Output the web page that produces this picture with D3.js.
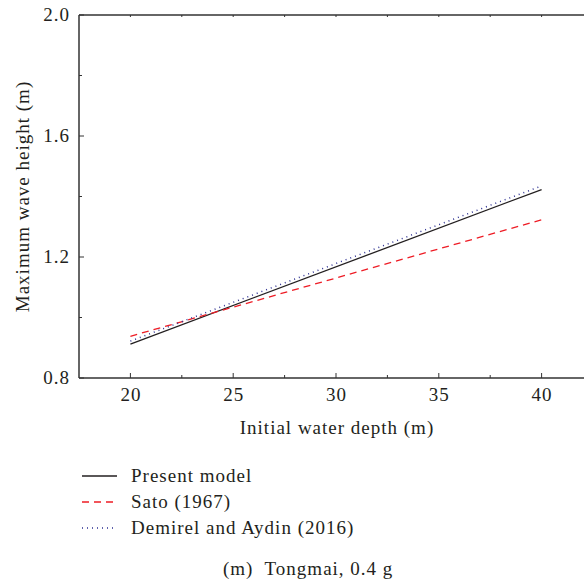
<!DOCTYPE html>
<html><head><meta charset="utf-8">
<script src="https://cdn.jsdelivr.net/npm/d3@7"></script>
<style>body{margin:0;background:#fff}svg{display:block}</style>
</head><body><svg id="c" width="584" height="584" font-family="Liberation Serif, serif"></svg>
<script>
const depth = [20, 40];
const presentModel = [0.912, 1.423];
const sato = [0.938, 1.323];
const demirel = [0.922, 1.435];
const xTicks = [20, 25, 30, 35, 40];
const yTicks = [0.8, 1.2, 1.6, 2.0];
const seriesNames = ["Present model", "Sato (1967)", "Demirel and Aydin (2016)"];
const seriesColors = ["#231f20", "#ee1c25", "#2e3192"];
const seriesDash = [null, "7,5", "1,4"];

const svg = d3.select("#c");
const FS = 19, LS = 1;
const tc = "#231f20";
const m = {l: 79, t: 15, r: 593, b: 378};
const x = d3.scaleLinear().domain([17.5, 42.5]).range([m.l, m.r]);
const y = d3.scaleLinear().domain([0.8, 2.0]).range([m.b, m.t]);
const ax = "#333";

function txt(xp, yp, s, anchor) {
  return svg.append("text").attr("x", xp).attr("y", yp).attr("text-anchor", anchor || "start")
    .attr("font-size", FS).attr("letter-spacing", LS).attr("fill", tc).text(s);
}

svg.append("line").attr("x1", m.l).attr("x2", m.r).attr("y1", m.b).attr("y2", m.b).attr("stroke", ax).attr("stroke-width", 1.5);
svg.append("line").attr("x1", m.l).attr("x2", m.r).attr("y1", m.t).attr("y2", m.t).attr("stroke", ax).attr("stroke-width", 1.5);
svg.append("line").attr("x1", m.l).attr("x2", m.l).attr("y1", m.t).attr("y2", m.b).attr("stroke", ax).attr("stroke-width", 1.5);

const xAll = d3.range(20, 42.6, 2.5);
xAll.forEach(v => {
  const major = xTicks.includes(v);
  svg.append("line").attr("x1", x(v)).attr("x2", x(v)).attr("y1", m.b).attr("y2", m.b - (major ? 5 : 3)).attr("stroke", ax).attr("stroke-width", 1);
  svg.append("line").attr("x1", x(v)).attr("x2", x(v)).attr("y1", m.t).attr("y2", m.t + 2).attr("stroke", ax).attr("stroke-width", 1);
});
xTicks.forEach(v => txt(x(v) + LS / 2, m.b + 23, String(v), "middle"));

const yAll = [0.8, 1.0, 1.2, 1.4, 1.6, 1.8, 2.0];
yAll.forEach(v => {
  const major = yTicks.some(t => Math.abs(t - v) < 1e-9);
  svg.append("line").attr("x1", m.l).attr("x2", m.l + (major ? 5 : 3)).attr("y1", y(v)).attr("y2", y(v)).attr("stroke", ax).attr("stroke-width", 1);
});
yTicks.forEach(v => txt(m.l - 10 + LS, y(v) + 6, v.toFixed(1), "end"));

txt((x(20) + x(40)) / 2 + 1, 434, "Initial water depth (m)", "middle");
txt(0, 0, "Maximum wave height (m)", "middle").attr("transform", `translate(29,${(m.t + m.b) / 2}) rotate(-90)`);

const line = d3.line().x(d => x(d[0])).y(d => y(d[1]));
[presentModel, sato, demirel].forEach((s, i) => {
  svg.append("path").datum(depth.map((d, j) => [d, s[j]])).attr("d", line)
    .attr("fill", "none").attr("stroke", seriesColors[i]).attr("stroke-width", i === 2 ? 1.5 : 1.3)
    .attr("stroke-dasharray", seriesDash[i]);
});

seriesNames.forEach((n, i) => {
  const ly = 476 + i * 26;
  svg.append("line").attr("x1", 82).attr("x2", 117).attr("y1", ly).attr("y2", ly)
    .attr("stroke", seriesColors[i]).attr("stroke-width", 1.3).attr("stroke-dasharray", seriesDash[i]);
  txt(131, ly + 6, n);
});
txt(223, 575, "(m)  Tongmai, 0.4 g", "start").attr("xml:space", "preserve").style("white-space", "pre");
</script></body></html>
